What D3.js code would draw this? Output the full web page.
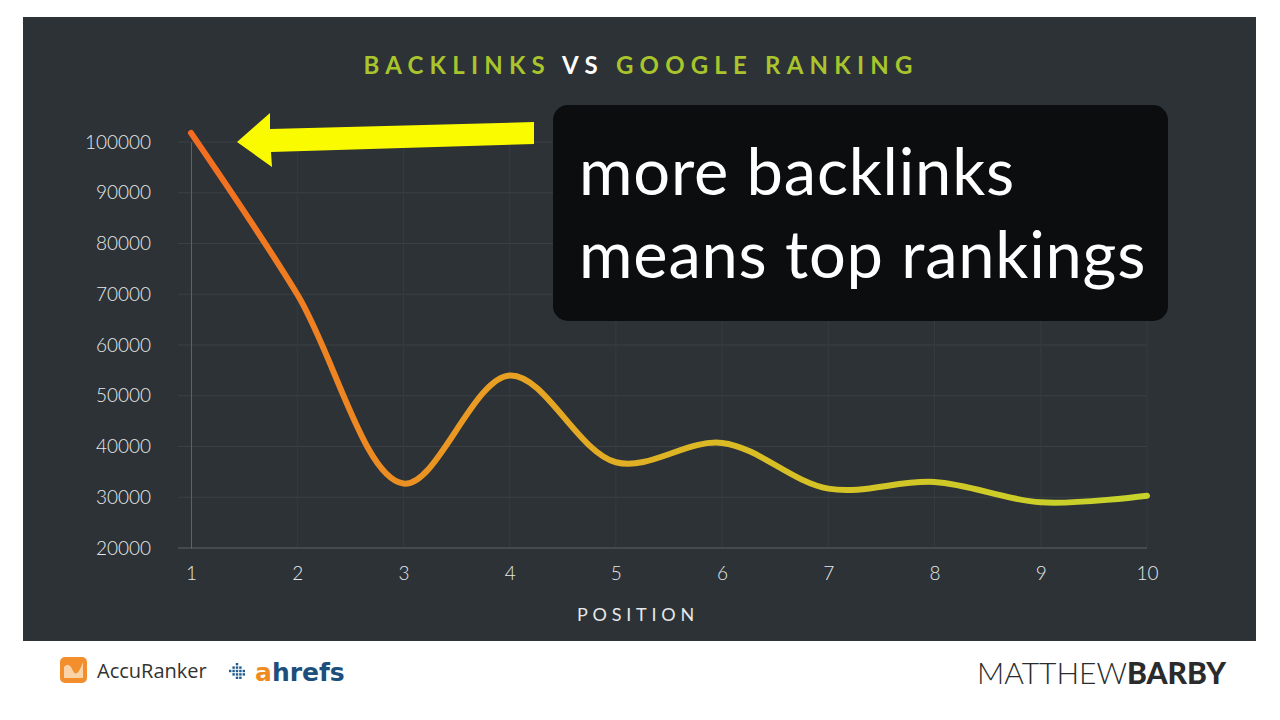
<!DOCTYPE html>
<html>
<head>
<meta charset="utf-8">
<script src="https://cdn.jsdelivr.net/npm/d3@7"></script>
<style>
  body { margin: 0; background: #ffffff; }
  svg { display: block; }
</style>
</head>
<body>
<script>
// chart data
let positions = [1, 2, 3, 4, 5, 6, 7, 8, 9, 10];
let backlinks = [101800, 70000, 32700, 54000, 36900, 40700, 31700, 33000, 29000, 30300];
let yTicks = [20000, 30000, 40000, 50000, 60000, 70000, 80000, 90000, 100000];

let w = 1280;
let h = 720;

let svg = d3.select("body")
    .append("svg")
    .attr("width", w)
    .attr("height", h);

// dark slide panel
svg.append("rect")
    .attr("x", 23).attr("y", 17)
    .attr("width", 1233).attr("height", 624)
    .attr("fill", "#2c3236");

let x = d3.scaleLinear().domain([1, 10]).range([191, 1147]);
let y = d3.scaleLinear().domain([20000, 100000]).range([548, 142]);

// gradient for the line
let defs = svg.append("defs");
let grad = defs.append("linearGradient")
    .attr("id", "lineGrad")
    .attr("gradientUnits", "userSpaceOnUse")
    .attr("x1", x(1)).attr("x2", x(10))
    .attr("y1", 0).attr("y2", 0);
grad.append("stop").attr("offset", "0").attr("stop-color", "#f36c21");
grad.append("stop").attr("offset", "0.33").attr("stop-color", "#e8a123");
grad.append("stop").attr("offset", "0.6").attr("stop-color", "#d8bf25");
grad.append("stop").attr("offset", "1").attr("stop-color", "#c6d42b");

// horizontal grid
svg.append("g")
    .selectAll("line")
    .data(yTicks.slice(1))
    .enter()
    .append("line")
    .attr("x1", 178).attr("x2", x(10))
    .attr("y1", d => y(d)).attr("y2", d => y(d))
    .attr("stroke", "#3a4145")
    .attr("stroke-width", 1);

// vertical grid
svg.append("g")
    .selectAll("line")
    .data(positions.slice(1))
    .enter()
    .append("line")
    .attr("x1", d => x(d)).attr("x2", d => x(d))
    .attr("y1", y(100000)).attr("y2", y(20000))
    .attr("stroke", "#353c40")
    .attr("stroke-width", 1);

// y axis
let yAxis = svg.append("g")
    .attr("transform", "translate(" + x(1) + ",0)")
    .call(d3.axisLeft(y).tickValues(yTicks).tickSize(0).tickPadding(40).tickFormat(d3.format("d")));
yAxis.select(".domain").attr("stroke", "#5d6468");
yAxis.selectAll("text")
    .attr("fill", "#e6e8e9")
    .style("font-family", "Lato, 'Open Sans', sans-serif")
    .style("font-weight", "300")
    .style("font-size", "19px");

// x axis
let xAxis = svg.append("g")
    .attr("transform", "translate(0," + y(20000) + ")")
    .call(d3.axisBottom(x).tickValues(positions).tickSize(0).tickPadding(19).tickFormat(d3.format("d")));
xAxis.select(".domain").attr("d", "M178,0H" + x(10)).attr("stroke", "#5d6468");
xAxis.selectAll("text")
    .attr("fill", "#e6e8e9")
    .style("font-family", "Lato, 'Open Sans', sans-serif")
    .style("font-weight", "300")
    .style("font-size", "19px");

// x axis title
svg.append("text")
    .attr("x", 638).attr("y", 621)
    .attr("text-anchor", "middle")
    .attr("fill", "#e6e8e9")
    .style("font-family", "Lato, sans-serif")
    .style("font-size", "18px")
    .style("letter-spacing", "4.8px")
    .text("POSITION");

// chart title
let title = svg.append("text")
    .attr("x", 641).attr("y", 74)
    .attr("text-anchor", "middle")
    .style("font-family", "Lato, sans-serif")
    .style("font-weight", "700")
    .style("font-size", "24px")
    .style("letter-spacing", "6.2px");
title.append("tspan").attr("fill", "#a9c42c").text("BACKLINKS ");
title.append("tspan").attr("fill", "#ffffff").text("VS ");
title.append("tspan").attr("fill", "#a9c42c").text("GOOGLE RANKING");

// the line
let line = d3.line()
    .x((d, i) => x(positions[i]))
    .y(d => y(d))
    .curve(d3.curveCatmullRom.alpha(0.5));

svg.append("path")
    .datum(backlinks)
    .attr("d", line)
    .attr("fill", "none")
    .attr("stroke", "url(#lineGrad)")
    .attr("stroke-width", 6)
    .attr("stroke-linecap", "round");

// yellow arrow annotation
svg.append("path")
    .attr("d", "M534,122 L534,144 L271,152 L272,167 L237,142 L270,113 L270,129 Z")
    .attr("fill", "#fbfb00");

// callout box
svg.append("rect")
    .attr("x", 553).attr("y", 105)
    .attr("width", 615).attr("height", 216)
    .attr("rx", 15)
    .attr("fill", "#0b0d0e");

svg.append("text")
    .attr("x", 579).attr("y", 195)
    .attr("fill", "#ffffff")
    .style("font-family", "Lato, sans-serif")
    .style("font-size", "65px")
    .style("letter-spacing", "0.8px")
    .text("more backlinks");
svg.append("text")
    .attr("x", 579).attr("y", 278)
    .attr("fill", "#ffffff")
    .style("font-family", "Lato, sans-serif")
    .style("font-size", "65px")
    .style("letter-spacing", "0.8px")
    .text("means top rankings");

// footer: AccuRanker
svg.append("rect")
    .attr("x", 60).attr("y", 657)
    .attr("width", 27).attr("height", 26)
    .attr("rx", 5)
    .attr("fill", "#f28f2c");
svg.append("path")
    .attr("d", "M64,678 L64,667 Q69,661 73,671 Q77,679 83,662 L83,678 Z")
    .attr("fill", "#fbd3a8");
svg.append("text")
    .attr("x", 97).attr("y", 678)
    .attr("fill", "#333333")
    .style("font-family", "'Open Sans', sans-serif")
    .style("font-size", "20px")
    .text("AccuRanker");

// footer: ahrefs
let dots = [[0,2],[1,1],[1,2],[1,3],[2,0],[2,1],[2,2],[2,3],[2,4],[3,1],[3,2],[3,3],[3,4],[4,2],[4,3]];
svg.append("g")
    .selectAll("rect")
    .data(dots)
    .enter()
    .append("rect")
    .attr("x", d => 229 + d[0] * 3.4)
    .attr("y", d => 663 + d[1] * 3.4)
    .attr("width", 2.4).attr("height", 2.4)
    .attr("fill", "#1f5b8c");
let ah = svg.append("text")
    .attr("x", 255).attr("y", 681)
    .style("font-family", "'DejaVu Sans', sans-serif")
    .style("font-weight", "700")
    .style("font-size", "25px");
ah.append("tspan").attr("fill", "#f08c1e").text("a");
ah.append("tspan").attr("fill", "#1c4f7c").text("hrefs");

// footer: MATTHEWBARBY
let mb = svg.append("text")
    .attr("x", 1226).attr("y", 684)
    .attr("text-anchor", "end")
    .attr("fill", "#2b2b2b")
    .style("font-family", "Lato, sans-serif")
    .style("font-size", "30px");
mb.append("tspan").style("font-weight", "300").text("MATTHEW");
mb.append("tspan").style("font-weight", "900").text("BARBY");
</script>
</body>
</html>
